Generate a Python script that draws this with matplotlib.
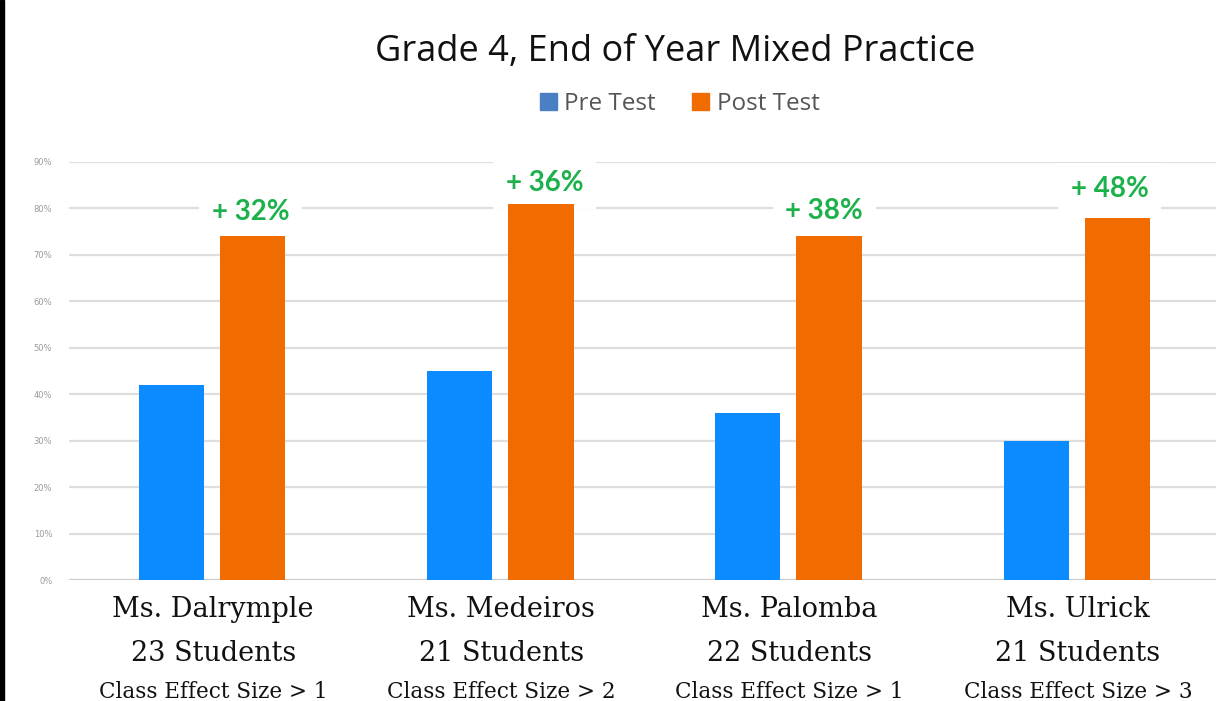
import matplotlib.pyplot as plt
from matplotlib.patches import Patch, Rectangle

teachers = ['Ms. Dalrymple', 'Ms. Medeiros', 'Ms. Palomba', 'Ms. Ulrick']
students = ['23 Students', '21 Students', '22 Students', '21 Students']
effect = ['Class Effect Size > 1', 'Class Effect Size > 2',
          'Class Effect Size > 1', 'Class Effect Size > 3']
pre = [42, 45, 36, 30]
post = [74, 81, 74, 78]
gains = ['+ 32%', '+ 36%', '+ 38%', '+ 48%']
gain_y = [79.2, 85.4, 79.4, 84.2]
gain_x = [0.13, 0.15, 0.12, 0.11]
yticks = [0, 10, 20, 30, 40, 50, 60, 70, 80, 90]

blue = '#0b8bff'
orange = '#f06b00'
green = '#1db14b'

fig = plt.figure(figsize=(12.16, 7.01), dpi=100)
ax = fig.add_axes([69 / 1216, 1 - 580 / 701, 1 - 69 / 1216, 418 / 701])

x = range(len(teachers))
ax.bar([i - 0.145 for i in x], pre, width=0.226, color=blue, zorder=1)
ax.bar([i + 0.137 for i in x], post, width=0.228, color=orange, zorder=1)

ax.set_ylim(0, 90)
ax.set_xlim(-0.5, 3.5 - 6 / 288)
ax.set_yticks(yticks)
ax.set_yticklabels([f'{v}%' for v in yticks], fontsize=6, color='#999999')
ax.yaxis.grid(True, color='#dedede', linewidth=1.6)
ax.set_axisbelow(True)
ax.tick_params(axis='y', length=0, pad=12)
ax.tick_params(axis='x', length=0)
ax.set_xticks([])
for s in ax.spines.values():
    s.set_visible(False)
ax.axhline(0, color='#cccccc', linewidth=1.5, zorder=0.95)

# labels sit under the bars so their white boxes only hide the grid lines
for i in x:
    ax.text(i + gain_x[i], gain_y[i], gains[i], ha='center', va='center',
            fontsize=20, color=green, family='Lato', fontweight='bold',
            bbox=dict(boxstyle='square,pad=0.45', fc='white', ec='none'), zorder=0.9)
    ax.text(i, -3.5, teachers[i], ha='center', va='top', fontsize=19.5,
            family='DejaVu Serif', color='#111111')
    ax.text(i, -13.0, students[i], ha='center', va='top', fontsize=19.5,
            family='DejaVu Serif', color='#111111')
    ax.text(i, -21.8, effect[i], ha='center', va='top', fontsize=15.5,
            family='DejaVu Serif', color='#111111')

fig.text(0.555, 1 - 52 / 701, 'Grade 4, End of Year Mixed Practice',
         ha='center', va='center', fontsize=26, family='Open Sans', color='#111111')

handles = [Patch(color='#4a7fc4', label='Pre Test'),
           Patch(color=orange, label='Post Test')]
fig.legend(handles=handles, loc='center', bbox_to_anchor=(0.559, 1 - 104 / 701),
           ncol=2, frameon=False, prop={'family': 'Open Sans', 'size': 17.5},
           labelcolor='#555555', handlelength=0.7, handleheight=0.7,
           handletextpad=0.3, columnspacing=1.5)

# dark border on the left edge of the screenshot
fig.patches.append(Rectangle((0, 0), 4 / 1216, 1, transform=fig.transFigure,
                             color='black'))

fig.savefig('out.png', dpi=100)
